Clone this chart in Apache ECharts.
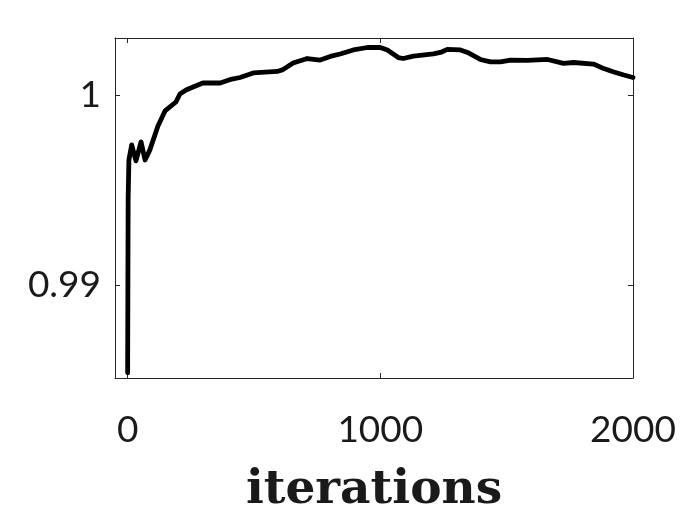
<!DOCTYPE html>
<html>
<head>
<meta charset="utf-8">
<script src="https://cdn.jsdelivr.net/npm/echarts@6/dist/echarts.min.js"></script>
<style>html,body{margin:0;padding:0;background:#fff;}#c{width:700px;height:525px;}</style>
</head>
<body>
<div id="c"></div>
<script>
var iterations = [0, 2, 5, 16, 33, 53, 69, 88, 120, 148, 191, 207, 231, 259, 298, 366, 413, 445, 497, 592, 612, 655, 711, 762, 802, 841, 893, 949, 1000, 1028, 1071, 1091, 1131, 1210, 1238, 1265, 1317, 1345, 1396, 1436, 1476, 1515, 1582, 1662, 1725, 1765, 1844, 1884, 1924, 1964, 2000];
var values = [0.98537, 0.9945, 0.99658, 0.99737, 0.99653, 0.99753, 0.99658, 0.99711, 0.99837, 0.99916, 0.99963, 1.00005, 1.00026, 1.00042, 1.00063, 1.00063, 1.00084, 1.00092, 1.00116, 1.00124, 1.00132, 1.00168, 1.00192, 1.00184, 1.00203, 1.00216, 1.00237, 1.0025, 1.0025, 1.00237, 1.00197, 1.00192, 1.00205, 1.00216, 1.00224, 1.0024, 1.00237, 1.00224, 1.00187, 1.00174, 1.00174, 1.00184, 1.00182, 1.00187, 1.00166, 1.00171, 1.00163, 1.00139, 1.00121, 1.00105, 1.00092];
var xTicks = [0, 1000, 2000];
var yTicks = [0.99, 1];
var xRange = [-50, 2000];
var yRange = [0.9851, 1.003];
var xName = 'iterations';

var data = iterations.map(function (x, i) { return [x, values[i]]; });
var axisColor = '#262626';
var tickFont = { fontFamily: 'Lato', fontSize: 37, color: '#1a1a1a' };

function xAx(pos, show) {
  return {
    type: 'value', position: pos, min: xRange[0], max: xRange[1],
    name: show ? xName : '', nameLocation: 'middle', nameGap: 89,
    nameTextStyle: { fontFamily: 'DejaVu Serif', fontWeight: 'bold', fontSize: 47, color: '#1a1a1a' },
    axisLine: { show: true, onZero: false, lineStyle: { color: axisColor, width: 1 } },
    axisTick: { show: true, inside: true, length: 5, customValues: xTicks, lineStyle: { color: axisColor } },
    axisLabel: Object.assign({ show: show, margin: 34, customValues: xTicks, formatter: function (v) { return String(v); } }, tickFont),
    splitLine: { show: false }
  };
}
function yAx(pos, show) {
  return {
    type: 'value', position: pos, min: yRange[0], max: yRange[1],
    axisLine: { show: true, onZero: false, lineStyle: { color: axisColor, width: 1 } },
    axisTick: { show: true, inside: true, length: 5, customValues: yTicks, lineStyle: { color: axisColor } },
    axisLabel: Object.assign({ show: show, margin: 14, customValues: yTicks, formatter: function (v) { return String(+v.toFixed(4)); } }, tickFont),
    splitLine: { show: false }
  };
}

var chart = echarts.init(document.getElementById('c'), null, { renderer: 'canvas' });
chart.setOption({
  animation: false,
  backgroundColor: '#fff',
  grid: { left: 115, right: 67, top: 38, bottom: 147, containLabel: false },
  xAxis: [xAx('bottom', true), xAx('top', false)],
  yAxis: [yAx('left', true), yAx('right', false)],
  series: [{
    type: 'line', data: data, xAxisIndex: 0, yAxisIndex: 0,
    showSymbol: false, symbol: 'none', smooth: false, clip: true,
    lineStyle: { color: '#000', width: 4.8, join: 'round', cap: 'round' }
  }]
});
</script>
</body>
</html>
